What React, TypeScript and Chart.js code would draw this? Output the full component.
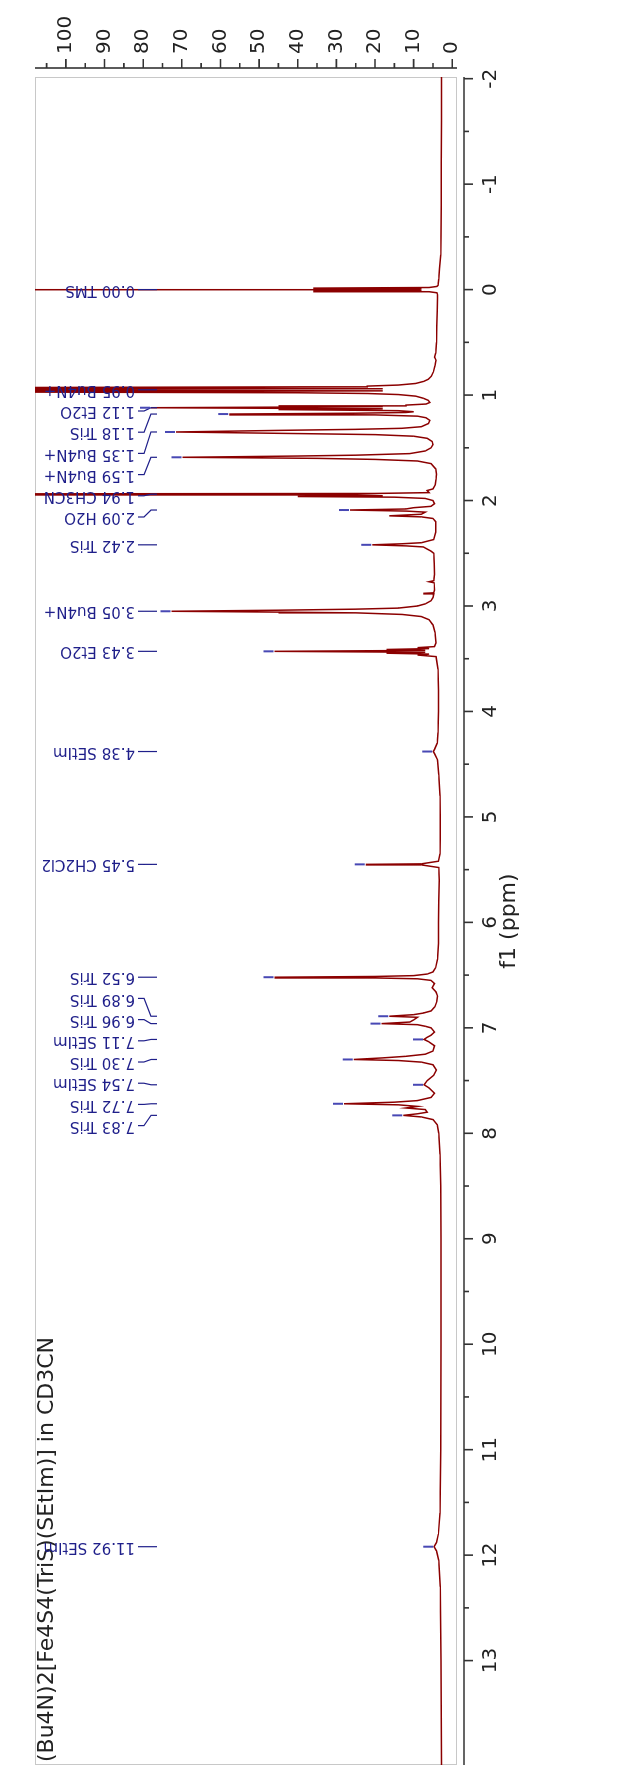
import { useEffect, useRef } from 'react';
import { Chart, registerables } from 'chart.js';

Chart.register(...registerables);

// Spectrum trace: chemical shift (ppm) and intensity
const shiftPpm = [
  -2.02, -1.6, -1.2, -0.8, -0.5, -0.33, -0.2, -0.1, -0.04,
  -0.03, -0.02, -0.014, -0.008, -0.002, 0, 0.002, 0.008, 0.014, 0.02, 0.03,
  0.05, 0.08, 0.2, 0.35, 0.5, 0.6, 0.64, 0.67, 0.72, 0.78, 0.82, 0.85, 0.87, 0.89,
  0.905, 0.915, 0.922, 0.93, 0.94, 0.95, 0.96, 0.97, 0.978, 0.985, 0.995, 1.01, 1.03, 1.05,
  1.07, 1.085, 1.095, 1.1025, 1.11, 1.12, 1.13, 1.1375, 1.148, 1.158, 1.165, 1.172, 1.18, 1.188,
  1.2, 1.215, 1.24, 1.27, 1.3, 1.315, 1.325, 1.335, 1.35, 1.365, 1.375, 1.39, 1.41, 1.44, 1.47,
  1.5, 1.53, 1.555, 1.57, 1.578, 1.59, 1.6, 1.61, 1.625, 1.65, 1.7, 1.75, 1.8, 1.85, 1.89, 1.905,
  1.925, 1.933, 1.94, 1.947, 1.955, 1.962, 1.968, 1.98, 2.0, 2.03, 2.055, 2.068, 2.08, 2.09, 2.1,
  2.11, 2.13, 2.145, 2.155, 2.17, 2.2, 2.3, 2.37, 2.4, 2.41, 2.42, 2.43, 2.44, 2.46, 2.48, 2.5,
  2.6, 2.7, 2.76, 2.77, 2.78, 2.85, 2.875, 2.88, 2.885, 2.92, 2.95, 2.98, 3.0, 3.02, 3.03, 3.04,
  3.05, 3.058, 3.065, 3.08, 3.1, 3.13, 3.18, 3.25, 3.35, 3.385, 3.395, 3.404, 3.4125, 3.421, 3.43,
  3.439, 3.4475, 3.456, 3.465, 3.48, 3.6, 3.8, 4.0, 4.2, 4.3, 4.36, 4.38, 4.4, 4.46, 4.6, 4.8,
  5.0, 5.2, 5.35, 5.42, 5.445, 5.45, 5.455, 5.48, 5.6, 5.8, 6.0, 6.2, 6.35, 6.43, 6.47, 6.49,
  6.505, 6.513, 6.52, 6.527, 6.535, 6.55, 6.58, 6.62, 6.66, 6.7, 6.75, 6.8, 6.84, 6.86, 6.875,
  6.89, 6.9, 6.925, 6.945, 6.96, 6.97, 6.985, 7.0, 7.04, 7.07, 7.09, 7.11, 7.13, 7.17, 7.22,
  7.25, 7.27, 7.285, 7.3, 7.31, 7.325, 7.35, 7.4, 7.45, 7.5, 7.54, 7.57, 7.62, 7.66, 7.69,
  7.705, 7.72, 7.73, 7.745, 7.76, 7.775, 7.8, 7.815, 7.83, 7.845, 7.87, 7.92, 8.0, 8.2, 8.5,
  9.0, 10.0, 11.0, 11.6, 11.8, 11.88, 11.92, 11.96, 12.05, 12.3, 13.0, 14.0,
];

const intensity = [
  2.8, 2.8, 2.85, 2.85, 2.9, 3.0, 3.3, 3.5, 3.7,
  4.0, 6, 36, 8, 12, 160, 12, 8, 36, 6, 4.0,
  3.8, 3.8, 3.9, 4.0, 4.1, 4.3, 4.6, 4.2, 4.5, 4.9, 5.4, 6.2, 7.4, 9.5,
  14, 22, 40, 130, 18, 250, 18, 130, 40, 22, 14, 9.5, 7.5, 6.2,
  5.8, 6.8, 12, 45, 18, 78, 18, 45, 14, 10, 12, 25, 57.7, 20,
  9, 6.8, 5.8, 6.2, 8, 13, 25, 45, 71.5, 40, 20, 10, 6.5, 5.2, 5.0,
  5.5, 7, 11, 25, 40, 69.8, 35, 20, 9, 5.5, 4.3, 4.1, 4.2, 4.4, 5.0, 6.5,
  6, 20, 200, 25, 18, 40, 15, 7, 5, 4.6, 5.5, 10, 12, 26.5, 12,
  7, 8, 16.3, 8, 5, 4.3, 4.3, 4.8, 8, 13, 20.7, 12, 7.5, 6.5, 5.5, 4.8,
  4.7, 4.6, 4.8, 6, 4.7, 4.6, 4.8, 7.5, 4.8, 5.0, 5.5, 7, 9, 14, 25, 45,
  72.7, 45, 25, 13, 8, 6, 5, 4.5, 4.2, 4.6, 9, 6, 17, 7, 46,
  7, 17, 6, 9, 4.2, 3.7, 3.6, 3.6, 3.7, 3.9, 4.6, 4.9, 4.6, 3.8, 3.5, 3.2,
  3.1, 3.1, 3.2, 3.6, 8, 22.4, 8, 3.5, 3.4, 3.5, 3.6, 3.6, 3.8, 4.3, 5, 6.5,
  10, 20, 46, 20, 9, 5.5, 4.6, 5.2, 4.2, 3.8, 4.0, 4.5, 5.5, 7.5, 10,
  16.3, 9, 10, 11, 18.3, 9, 7, 5.5, 4.6, 5.5, 6.5, 7.3, 6.2, 4.6, 5.0,
  7, 12, 18, 25.5, 14, 8, 5, 4.1, 4.8, 6.5, 7.3, 6, 4.6, 5.5, 9,
  15, 28, 14, 9, 12, 7, 6.5, 9, 12.7, 8, 5, 3.9, 3.5, 3.2, 3.0,
  2.9, 2.9, 3.0, 3.2, 3.6, 4.1, 4.7, 4.1, 3.5, 3.1, 2.9, 2.8,
];

// Peak annotations
const peakPpm = [0.0, 0.95, 1.12, 1.18, 1.35, 1.59, 1.94, 2.09, 2.42, 3.05, 3.43, 4.38, 5.45, 6.52, 6.89, 6.96, 7.11, 7.3, 7.54, 7.72, 7.83, 11.92];
const peakName = ['TMS', 'Bu4N+', 'Et2O', 'TriS', 'Bu4N+', 'Bu4N+', 'CH3CN', 'H2O', 'TriS', 'Bu4N+', 'Et2O', 'SEtIm', 'CH2Cl2', 'TriS', 'TriS', 'TriS', 'SEtIm', 'TriS', 'SEtIm', 'TriS', 'TriS', 'SEtIm'];

const chartTitle = '(Bu4N)2[Fe4S4(TriS)(SEtIm)] in CD3CN';
const xAxisTitle = 'f1 (ppm)';

const FONT = "'DejaVu Sans', 'Noto Sans', sans-serif";
const AXIS_COLOR = '#333333';
const LABEL_BLUE = '#1f1f8a';
const MARK_BLUE = '#4848b4';

// spread labels so that they do not overlap (distance measured along the shift axis, in px)
function spreadLabels(pos: number[], gap: number): number[] {
  const n = pos.length;
  const fwd = pos.slice();
  const bwd = pos.slice();
  for (let i = 1; i < n; i++) fwd[i] = Math.max(pos[i], fwd[i - 1] + gap);
  for (let i = n - 2; i >= 0; i--) bwd[i] = Math.min(pos[i], bwd[i + 1] - gap);
  const out = pos.slice();
  let start = 0;
  for (let i = 1; i <= n; i++) {
    const linked = i < n && (fwd[i] > pos[i] + 0.01 || bwd[i - 1] < pos[i - 1] - 0.01);
    if (!linked) {
      const count = i - start;
      if (count > 1) {
        const span = pos[i - 1] - pos[start];
        const step = Math.max(gap, span / (count - 1));
        for (let k = 0; k < count; k++) out[start + k] = pos[start] + k * step;
      }
      start = i;
    }
  }
  return out;
}

const decorPlugin = {
  id: 'decor',
  beforeDatasetsDraw(chart: any) {
    const { ctx, chartArea: a } = chart;
    ctx.save();
    ctx.strokeStyle = '#c8c8c8';
    ctx.lineWidth = 1;
    ctx.strokeRect(a.left + 0.5, a.top + 0.5, a.right - a.left - 1, a.bottom - a.top - 1);
    ctx.restore();
  },
  afterDraw(chart: any) {
    const { ctx, chartArea: a } = chart;
    const xs = chart.scales.x;
    const ys = chart.scales.y;
    ctx.save();
    // offset axes
    ctx.strokeStyle = AXIS_COLOR;
    ctx.lineWidth = 1.6;
    const xAxisV = a.bottom + 7;
    const yAxisU = a.right + 9;
    ctx.beginPath();
    ctx.moveTo(a.left, xAxisV);
    ctx.lineTo(a.right, xAxisV);
    ctx.moveTo(yAxisU, a.top);
    ctx.lineTo(yAxisU, a.bottom);
    ctx.stroke();
    const xt = xs.ticks.map((t: any) => t.value);
    const xStep = xt.length > 1 ? xt[1] - xt[0] : 1;
    ctx.beginPath();
    xt.forEach((v: number) => {
      const p = xs.getPixelForValue(v);
      ctx.moveTo(p, xAxisV);
      ctx.lineTo(p, xAxisV + 9);
      const m = v + xStep / 2;
      if (m <= xs.max && m >= xs.min) {
        const pm = xs.getPixelForValue(m);
        ctx.moveTo(pm, xAxisV);
        ctx.lineTo(pm, xAxisV + 5);
      }
    });
    const yt = ys.ticks.map((t: any) => t.value);
    const yStep = yt.length > 1 ? yt[1] - yt[0] : 10;
    yt.forEach((v: number) => {
      const p = ys.getPixelForValue(v);
      ctx.moveTo(yAxisU, p);
      ctx.lineTo(yAxisU + 9, p);
      const m = v + yStep / 2;
      if (m <= ys.max && m >= ys.min) {
        const pm = ys.getPixelForValue(m);
        ctx.moveTo(yAxisU, pm);
        ctx.lineTo(yAxisU + 5, pm);
      }
    });
    ctx.stroke();

    // title inside frame
    ctx.fillStyle = '#222222';
    ctx.font = `22px ${FONT}`;
    ctx.textAlign = 'left';
    ctx.textBaseline = 'top';
    ctx.fillText(chartTitle, a.left + 3, a.top + 1);

    // peak labels
    const order = peakPpm.map((_, i) => i).sort((i, j) => peakPpm[i] - peakPpm[j]);
    const along = order.map((i) => -xs.getPixelForValue(peakPpm[i]));
    const spread = spreadLabels(along, 21.2);
    const labelPx: number[] = new Array(peakPpm.length);
    order.forEach((i, k) => {
      labelPx[i] = -spread[k];
    });
    ctx.beginPath();
    ctx.rect(a.left, a.top, a.right - a.left, a.bottom - a.top);
    ctx.clip();
    ctx.font = `15px ${FONT}`;
    ctx.fillStyle = LABEL_BLUE;
    ctx.textBaseline = 'middle';
    ctx.textAlign = 'left';
    const textV = a.top + 100;
    peakPpm.forEach((pp, i) => {
      const l = labelPx[i];
      ctx.save();
      ctx.translate(l, textV);
      ctx.rotate(-Math.PI / 2);
      ctx.fillText(`${pp.toFixed(2)} ${peakName[i]}`, 0, 0);
      ctx.restore();
    });
    ctx.strokeStyle = LABEL_BLUE;
    ctx.lineWidth = 1.2;
    ctx.beginPath();
    peakPpm.forEach((pp, i) => {
      const p = xs.getPixelForValue(pp);
      const l = labelPx[i];
      ctx.moveTo(l, a.top + 103);
      ctx.lineTo(l, a.top + 109);
      ctx.lineTo(p, a.top + 116);
      ctx.lineTo(p, a.top + 122);
    });
    ctx.stroke();
    // peak top markers
    ctx.strokeStyle = MARK_BLUE;
    ctx.lineWidth = 2;
    ctx.beginPath();
    peakPpm.forEach((pp) => {
      let top = -Infinity;
      shiftPpm.forEach((s, k) => {
        if (Math.abs(s - pp) < 0.006 && intensity[k] > top) top = intensity[k];
      });
      if (top === -Infinity) return;
      const p = xs.getPixelForValue(pp);
      const tv = ys.getPixelForValue(top);
      if (tv - 11 < a.top) return;
      ctx.moveTo(p, tv - 11);
      ctx.lineTo(p, tv - 1);
    });
    ctx.stroke();
    ctx.restore();
  },
};

export default function App() {
  const ref = useRef<HTMLCanvasElement | null>(null);
  useEffect(() => {
    if (!ref.current) return;
    const chart = new Chart(ref.current, {
      type: 'line',
      data: {
        datasets: [
          {
            data: shiftPpm.map((x, i) => ({ x, y: intensity[i] })),
            borderColor: '#8b0000',
            borderWidth: 1.5,
            pointRadius: 0,
            tension: 0,
            fill: false,
          },
        ],
      },
      options: {
        animation: false,
        responsive: false,
        events: [],
        layout: { padding: { left: 2, top: 8, right: 0, bottom: 0 } },
        plugins: { legend: { display: false }, tooltip: { enabled: false }, title: { display: false } },
        scales: {
          x: {
            type: 'linear',
            position: 'bottom',
            reverse: true,
            min: -2.016,
            max: 13.99,
            afterFit: (s: any) => {
              s.height = 169;
            },
            border: { display: false },
            grid: { display: false, drawTicks: false },
            ticks: {
              stepSize: 1,
              includeBounds: false,
              autoSkip: false,
              maxRotation: 0,
              minRotation: 0,
              padding: 22,
              color: '#222222',
              font: { family: FONT, size: 20 },
            },
            title: {
              display: true,
              text: xAxisTitle,
              color: '#222222',
              font: { family: FONT, size: 22 },
              padding: { top: 0, bottom: 104 },
            },
          },
          y: {
            type: 'linear',
            position: 'right',
            min: -1.22,
            max: 108,
            afterFit: (s: any) => {
              s.width = 77;
            },
            border: { display: false },
            grid: { display: false, drawTicks: false },
            ticks: {
              stepSize: 10,
              includeBounds: false,
              padding: 23,
              color: '#222222',
              font: { family: FONT, size: 20 },
            },
          },
        },
      },
      plugins: [decorPlugin],
    } as any);
    return () => chart.destroy();
  }, []);

  return (
    <div style={{ position: 'fixed', left: 0, top: 0, width: 626, height: 1767, overflow: 'hidden', background: '#ffffff' }}>
      <div
        style={{
          position: 'absolute',
          left: 0,
          top: 0,
          width: 1767,
          height: 626,
          transformOrigin: '0 0',
          transform: 'translate(0px, 1767px) rotate(-90deg)',
        }}
      >
        <canvas ref={ref} width={1767} height={626} style={{ display: 'block', width: 1767, height: 626 }} />
      </div>
    </div>
  );
}
